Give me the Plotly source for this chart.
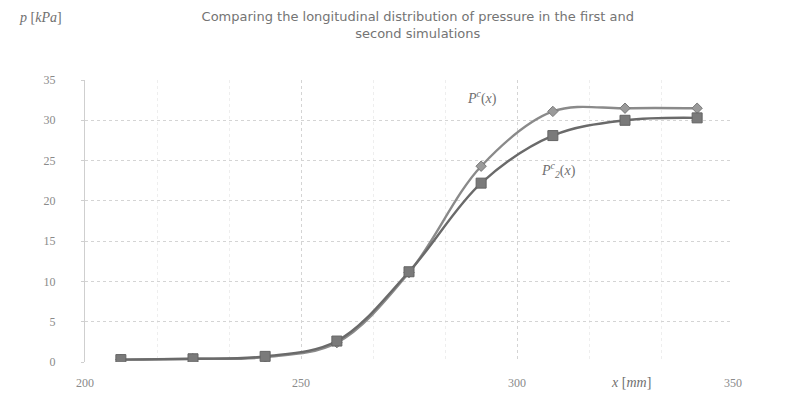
import plotly.graph_objects as go

# Data
x_mm = [208.3, 225.0, 241.7, 258.3, 275.0, 291.7, 308.3, 325.0, 341.7]
p_c = [0.3, 0.4, 0.6, 2.4, 11.1, 24.3, 31.1, 31.5, 31.5]
p2_c = [0.3, 0.4, 0.7, 2.6, 11.2, 22.2, 28.1, 30.0, 30.3]

x_ticks = [200, 250, 300, 350]
y_ticks = [0, 5, 10, 15, 20, 25, 30, 35]

title_text = ("Comparing the longitudinal distribution of pressure in the first and"
              "<br>second simulations")

fig = go.Figure()

fig.add_trace(go.Scatter(
    x=x_mm, y=p_c, mode="lines+markers", name="P^c(x)",
    line=dict(color="#8a8a8a", width=2.4, shape="spline", smoothing=1.0),
    marker=dict(symbol="diamond", size=8, color="#9a9a9a",
                line=dict(color="#7a7a7a", width=1)),
))
fig.add_trace(go.Scatter(
    x=x_mm, y=p2_c, mode="lines+markers", name="P2^c(x)",
    line=dict(color="#6a6a6a", width=2.4, shape="spline", smoothing=1.0),
    marker=dict(symbol="square", size=10, color="#7a7a7a",
                line=dict(color="#646464", width=1)),
))

fig.update_layout(
    width=788, height=406,
    margin=dict(l=77, r=63, t=72, b=52),
    paper_bgcolor="#ffffff", plot_bgcolor="#ffffff",
    showlegend=False,
    title=dict(text=title_text, x=0.52, xanchor="center", y=0.968, yanchor="top",
               font=dict(family="DejaVu Sans", size=13, color="#747474")),
    font=dict(family="Liberation Sans", size=11, color="#808080"),
)

fig.update_xaxes(
    range=[200, 350], tickvals=x_ticks, ticktext=[str(v) for v in x_ticks],
    showgrid=True, gridcolor="#d4d4d4", griddash="dot", gridwidth=1,
    minor=dict(dtick=50/3, tick0=200, showgrid=True, gridcolor="#eeeeee", griddash="dot"),
    zeroline=False, showline=False, ticks="",
    ticklabelstandoff=12,
    tickfont=dict(family="Liberation Serif", size=12, color="#8a8a8a"),
)
fig.update_yaxes(
    range=[0, 35], tickvals=y_ticks, ticktext=[str(v) for v in y_ticks],
    showgrid=True, gridcolor="#d4d4d4", griddash="dot", gridwidth=1,
    zeroline=False, showline=True, linecolor="#cfcfcf", linewidth=1,
    ticks="outside", ticklen=3, tickcolor="#cfcfcf",
    ticklabelstandoff=23,
    tickfont=dict(family="Liberation Serif", size=12, color="#8a8a8a"),
)

serif_i = dict(family="Liberation Serif", size=14, color="#707070")
fig.add_annotation(xref="paper", yref="paper", x=-0.068, y=1.22, xanchor="center",
                   yanchor="middle", text="<i>p</i> [<i>kPa</i>]", showarrow=False, font=serif_i)
fig.add_annotation(xref="x", yref="paper", x=326.5, y=-0.074, xanchor="center",
                   yanchor="middle", text="<i>x</i> [<i>mm</i>]", showarrow=False, font=serif_i)
fig.add_annotation(xref="x", yref="y", x=292.0, y=32.8, xanchor="center",
                   yanchor="middle", text="<i>P<sup>c</sup></i>(<i>x</i>)", showarrow=False,
                   font=serif_i)
fig.add_annotation(xref="x", yref="y", x=309.5, y=23.8, xanchor="center",
                   yanchor="middle", text="<i>P<sup>c</sup><sub>2</sub></i>(<i>x</i>)",
                   showarrow=False, font=serif_i)

fig.write_html("out.html")
